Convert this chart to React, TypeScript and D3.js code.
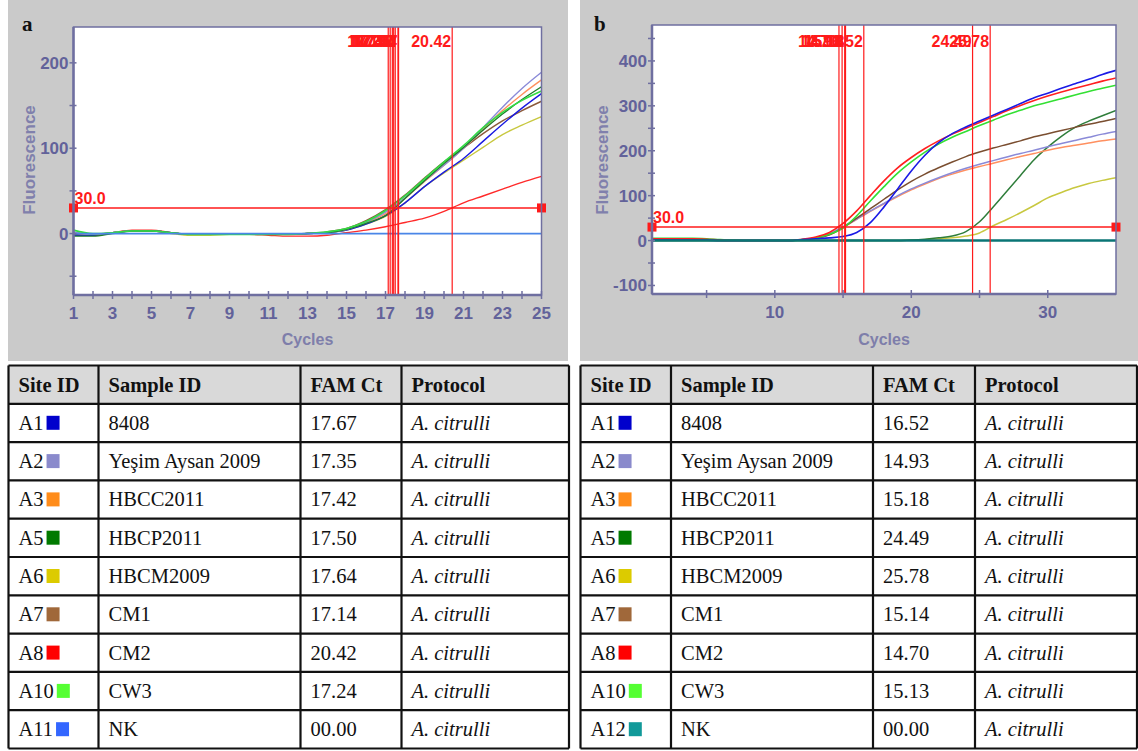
import React from 'react';
import * as d3 from 'd3';

// ---------- DATA ----------
const cyclesA = [1, 2, 3, 4, 5, 6, 7, 8, 9, 10, 11, 12, 13, 14, 15, 16, 17, 18, 19, 20, 21, 22, 23, 24, 25];
const cyclesB = [1, 2, 3, 4, 5, 6, 7, 8, 9, 10, 11, 12, 13, 14, 15, 16, 17, 18, 19, 20, 21, 22, 23, 24, 25, 26, 27, 28, 29, 30, 31, 32, 33, 34, 35];

// Panel a fluorescence per cycle
const blueA = [-2, -2, 1, 3, 3, 1, -1, -1, -1, -1, -1, -1, 0, 1, 4, 11, 21, 36, 55, 72, 88, 108, 128, 147, 164];
const lavenderA = [2, -1, 1, 3, 3, 1, -1, -1, -1, -1, -1, -1, 0, 1, 5, 13, 25, 42, 62, 80, 100, 124, 148, 170, 189];
const orangeA = [1, -1, 1, 3, 3, 1, -1, -1, -1, -1, -1, -1, 0, 1, 5, 13, 23, 41, 61, 80, 100, 122, 144, 163, 180];
const darkGreenA = [-3, -3, 0, 3, 3, 1, -1, -1, -1, -1, -1, -1, 0, 1, 5, 12, 21, 41, 62, 82, 101, 121, 140, 157, 172];
const yellowA = [0, -1, 1, 3, 3, 0, -2, -2, -1, -1, -1, -1, 0, 1, 4, 11, 20, 36, 55, 71, 86, 101, 116, 127, 137];
const brownA = [-2, -2, 1, 3, 3, 1, -1, -1, -1, -1, -1, -1, 0, 2, 6, 15, 28, 45, 65, 84, 100, 117, 132, 144, 155];
const redA = [-1, -2, 1, 4, 4, 1, -1, -1, -1, -1, -2, -3, -3, -2, 1, 4, 8, 13, 18, 26, 36, 44, 52, 60, 67];
const greenA = [4, 0, 1, 3, 3, 1, -1, -1, -1, -1, -1, -1, 0, 2, 6, 14, 27, 44, 64, 84, 103, 124, 142, 156, 167];
const nkA = [0, 0, 0, 0, 0, 0, 0, 0, 0, 0, 0, 0, 0, 0, 0, 0, 0, 0, 0, 0, 0, 0, 0, 0, 0];

// Panel b fluorescence per cycle
const blueB = [1, 1, 1, 1, 1, 0, 0, 0, 0, 0, 0, 2, 4, 6, 9, 18, 40, 75, 115, 155, 190, 218, 238, 253, 266, 279, 292, 305, 318, 328, 339, 349, 359, 370, 379];
const lavenderB = [1, 1, 1, 1, 1, 0, 0, 0, 0, 0, 0, 2, 6, 15, 31, 48, 66, 83, 100, 115, 128, 140, 151, 161, 170, 178, 186, 194, 201, 209, 216, 223, 230, 237, 243];
const orangeB = [1, 1, 1, 1, 1, 0, 0, 0, 0, 0, 0, 2, 5, 13, 29, 47, 65, 82, 98, 113, 126, 138, 148, 157, 165, 172, 180, 187, 194, 201, 207, 212, 217, 222, 226];
const darkGreenB = [0, 0, 0, 0, 0, 0, 0, 0, 0, 0, 0, 0, 0, 0, 0, 0, 0, 0, 0, 1, 3, 6, 10, 20, 42, 75, 110, 145, 180, 208, 232, 252, 266, 278, 290];
const yellowB = [0, 0, 0, 0, 0, 0, 0, 0, 0, 0, 0, 0, 0, 0, 0, 0, 0, 0, 0, 1, 2, 4, 6, 10, 17, 33, 47, 62, 78, 95, 107, 118, 127, 134, 140];
const brownB = [1, 1, 1, 1, 1, 0, 0, 0, 0, 0, 0, 2, 5, 13, 29, 50, 71, 92, 113, 132, 148, 162, 175, 187, 197, 206, 214, 222, 231, 238, 245, 252, 259, 265, 272];
const redB = [4, 4, 4, 4, 3, 1, 0, 0, 0, 0, 0, 3, 8, 18, 38, 66, 100, 133, 162, 185, 205, 222, 237, 250, 263, 276, 289, 301, 312, 322, 331, 339, 347, 355, 362];
const greenB = [5, 5, 5, 5, 4, 2, 1, 0, 0, 0, 0, 2, 6, 14, 28, 55, 88, 120, 150, 175, 197, 215, 230, 243, 256, 268, 280, 290, 300, 308, 316, 324, 332, 339, 346];
const nkB = [0, 0, 0, 0, 0, 0, 0, 0, 0, 0, 0, 0, 0, 0, 0, 0, 0, 0, 0, 0, 0, 0, 0, 0, 0, 0, 0, 0, 0, 0, 0, 0, 0, 0, 0];

// Ct values (vertical lines)
const ctA = [17.67, 17.35, 17.42, 17.5, 17.64, 17.14, 20.42, 17.24];
const ctB = [16.52, 14.93, 15.18, 24.49, 25.78, 15.14, 14.7, 15.13];
const threshold = 30;

// Axis ticks
const xLabelsA = [1, 3, 5, 7, 9, 11, 13, 15, 17, 19, 21, 23, 25];
const xMinorA = [1, 2, 3, 4, 5, 6, 7, 8, 9, 10, 11, 12, 13, 14, 15, 16, 17, 18, 19, 20, 21, 22, 23, 24, 25];
const yLabelsA = [0, 100, 200];
const yMinorA = [-50, 0, 50, 100, 150, 200];
const xLabelsB = [10, 20, 30];
const xMinorB = [5, 10, 15, 20, 25, 30];
const yLabelsB = [-100, 0, 100, 200, 300, 400];
const yMinorB = [-100, -50, 0, 50, 100, 150, 200, 250, 300, 350, 400, 450];

// Table
const siteIdsA = ['A1', 'A2', 'A3', 'A5', 'A6', 'A7', 'A8', 'A10', 'A11'];
const siteIdsB = ['A1', 'A2', 'A3', 'A5', 'A6', 'A7', 'A8', 'A10', 'A12'];
const sampleIds = ['8408', 'Yeşim Aysan 2009', 'HBCC2011', 'HBCP2011', 'HBCM2009', 'CM1', 'CM2', 'CW3', 'NK'];
const famCtA = ['17.67', '17.35', '17.42', '17.50', '17.64', '17.14', '20.42', '17.24', '00.00'];
const famCtB = ['16.52', '14.93', '15.18', '24.49', '25.78', '15.14', '14.70', '15.13', '00.00'];
const protocols = ['A. citrulli', 'A. citrulli', 'A. citrulli', 'A. citrulli', 'A. citrulli', 'A. citrulli', 'A. citrulli', 'A. citrulli', 'A. citrulli'];
const headers = ['Site ID', 'Sample ID', 'FAM Ct', 'Protocol'];
const swatchA = ['#0000cc', '#8a8acc', '#ff8c1a', '#007a00', '#dccb00', '#a0683a', '#ff0000', '#55ff33', '#3366ff'];
const swatchB = ['#0000cc', '#8a8acc', '#ff8c1a', '#007a00', '#dccb00', '#a0683a', '#ff0000', '#55ff33', '#119999'];

// ---------- STYLE ----------
const AXIS = '#6f6fa0';
const TICKTXT = '#62629a';
const RED = '#ff1a1a';
const GRAY = '#cacaca';
const SANS = "'Liberation Sans Narrow', 'Liberation Sans', Arial, sans-serif";
const SANS_W = "'Liberation Sans', Arial, sans-serif";
const SERIF = "'Liberation Serif', 'Times New Roman', serif";
const TFONT = 20.5;

type Series = { values: number[]; color: string; width: number };

const seriesA: Series[] = [
  { values: redA, color: '#ff2a2a', width: 1.4 },
  { values: yellowA, color: '#c8c840', width: 1.4 },
  { values: brownA, color: '#8b5a3a', width: 1.4 },
  { values: blueA, color: '#1a1ae0', width: 1.4 },
  { values: orangeA, color: '#ff9060', width: 1.4 },
  { values: lavenderA, color: '#8a8ad8', width: 1.4 },
  { values: darkGreenA, color: '#1f7f2a', width: 1.4 },
  { values: greenA, color: '#33dd44', width: 1.6 },
  { values: nkA, color: '#4a86e8', width: 1.8 },
];

const seriesB: Series[] = [
  { values: yellowB, color: '#c8c840', width: 1.5 },
  { values: darkGreenB, color: '#2e7d3a', width: 1.5 },
  { values: orangeB, color: '#ff9060', width: 1.5 },
  { values: lavenderB, color: '#8a8ad8', width: 1.5 },
  { values: brownB, color: '#7a4e30', width: 1.5 },
  { values: greenB, color: '#33e033', width: 1.6 },
  { values: redB, color: '#ff2020', width: 1.6 },
  { values: blueB, color: '#1a1ae6', width: 1.6 },
  { values: nkB, color: '#0a7575', width: 2.6 },
];

type PanelProps = {
  letter: string;
  bg: { x: number; w: number };
  plot: { l: number; r: number; t: number; b: number };
  labelX: number;
  xDomain: [number, number];
  yDomain: [number, number];
  cycles: number[];
  series: Series[];
  cts: number[];
  xLabels: number[];
  xMinor: number[];
  yLabels: number[];
  yMinor: number[];
};

function Panel(p: PanelProps) {
  const x = d3.scaleLinear().domain(p.xDomain).range([p.plot.l, p.plot.r]);
  const y = d3.scaleLinear().domain(p.yDomain).range([p.plot.b, p.plot.t]);
  const line = d3
    .line<number>()
    .x((_, i) => x(p.cycles[i]))
    .y((d) => y(d))
    .curve(d3.curveMonotoneX);
  const thrY = y(threshold);
  const cx = (p.plot.l + p.plot.r) / 2;
  return (
    <g>
      <rect x={p.bg.x} y={0} width={p.bg.w} height={361} fill={GRAY} />
      <text x={p.bg.x + 14} y={31} fontFamily={SERIF} fontWeight="bold" fontSize={21} fill="#111">
        {p.letter}
      </text>
      <rect x={p.plot.l} y={p.plot.t} width={p.plot.r - p.plot.l} height={p.plot.b - p.plot.t} fill="#fff" />
      <defs>
        <clipPath id={'clip' + p.letter}>
          <rect x={p.plot.l} y={p.plot.t} width={p.plot.r - p.plot.l} height={p.plot.b - p.plot.t} />
        </clipPath>
      </defs>
      <g clipPath={`url(#clip${p.letter})`}>
        {p.series.map((s, i) => (
          <path key={i} d={line(s.values) || ''} fill="none" stroke={s.color} strokeWidth={s.width} />
        ))}
      </g>
      {/* Ct vertical lines */}
      {p.cts.map((c, i) => (
        <line key={i} x1={x(c)} x2={x(c)} y1={p.plot.t} y2={p.plot.b} stroke={RED} strokeWidth={1.2} />
      ))}
      {p.cts.map((c, i) => (
        <text key={i} x={x(c) - 1} y={47} textAnchor="end" fontFamily={SANS} fontWeight="bold" fontSize={16} fill={RED}>
          {c.toFixed(2)}
        </text>
      ))}
      {/* threshold */}
      <line x1={p.plot.l} x2={p.plot.r} y1={thrY} y2={thrY} stroke={RED} strokeWidth={1.5} />
      <rect x={p.plot.l - 4.5} y={thrY - 4.5} width={9} height={9} fill={RED} />
      <rect x={p.plot.r - 4.5} y={thrY - 4.5} width={9} height={9} fill={RED} />
      <text x={p.plot.l + 1} y={thrY - 4} fontFamily={SANS} fontWeight="bold" fontSize={16} fill={RED}>
        {threshold.toFixed(1)}
      </text>
      {/* frame */}
      <rect
        x={p.plot.l}
        y={p.plot.t}
        width={p.plot.r - p.plot.l}
        height={p.plot.b - p.plot.t}
        fill="none"
        stroke={AXIS}
        strokeWidth={1.5}
      />
      <line x1={p.plot.l} x2={p.plot.r} y1={p.plot.b} y2={p.plot.b} stroke={AXIS} strokeWidth={2.5} />
      <line x1={p.plot.l} x2={p.plot.l} y1={p.plot.t} y2={p.plot.b} stroke={AXIS} strokeWidth={2.5} />
      {/* x ticks */}
      {p.xMinor.map((t) => (
        <line key={'xm' + t} x1={x(t)} x2={x(t)} y1={p.plot.b - 4} y2={p.plot.b + 4} stroke={AXIS} strokeWidth={1.5} />
      ))}
      {p.xLabels.map((t) => (
        <text key={'xl' + t} x={x(t)} y={p.plot.b + 24} textAnchor="middle" fontFamily={SANS} fontWeight="bold" fontSize={17} fill={TICKTXT}>
          {t}
        </text>
      ))}
      {/* y ticks */}
      {p.yMinor.map((t) => (
        <line key={'ym' + t} x1={p.plot.l - 4} x2={p.plot.l + 3} y1={y(t)} y2={y(t)} stroke={AXIS} strokeWidth={1.5} />
      ))}
      {p.yLabels.map((t) => (
        <text key={'yl' + t} x={p.plot.l - 5} y={y(t) + 6} textAnchor="end" fontFamily={SANS} fontWeight="bold" fontSize={17} fill={TICKTXT}>
          {t}
        </text>
      ))}
      <text
        transform={`translate(${p.labelX},${160}) rotate(-90)`}
        textAnchor="middle"
        fontFamily={SANS_W}
        fontWeight="bold"
        fontSize={17}
        fill="#8080ac"
      >
        Fluorescence
      </text>
      <text x={cx} y={345} textAnchor="middle" fontFamily={SANS_W} fontWeight="bold" fontSize={16} fill="#7e7eaa">
        Cycles
      </text>
    </g>
  );
}

type TableProps = {
  cols: number[];
  sites: string[];
  cts: string[];
  swatches: string[];
};

const TABLE_TOP = 365.5;
const ROW_H = 38.3;
const ROW_INDEX = [0, 1, 2, 3, 4, 5, 6, 7, 8, 9];

function Table(t: TableProps) {
  const rowsY = ROW_INDEX.map((i) => TABLE_TOP + i * ROW_H);
  const left = t.cols[0];
  const right = t.cols[t.cols.length - 1];
  const bottom = rowsY[9] + ROW_H;
  const body = sampleIds.map((s, i) => [t.sites[i], s, t.cts[i], protocols[i]]);
  const ctx = typeof document !== 'undefined' ? document.createElement('canvas').getContext('2d') : null;
  const measure = (s: string) => {
    if (!ctx) return s.length * 10;
    ctx.font = `${TFONT}px ${SERIF}`;
    return ctx.measureText(s).width;
  };
  return (
    <g>
      <rect x={left} y={rowsY[0]} width={right - left} height={ROW_H} fill="#d9d9d9" />
      {headers.map((h, j) => (
        <text key={h} x={t.cols[j] + 10} y={rowsY[0] + 26} fontFamily={SERIF} fontWeight="bold" fontSize={TFONT} fill="#111">
          {h}
        </text>
      ))}
      {body.map((row, i) =>
        row.map((cell, j) => (
          <text
            key={i + '-' + j}
            x={t.cols[j] + 10}
            y={rowsY[i + 1] + 26}
            fontFamily={SERIF}
            fontStyle={j === 3 ? 'italic' : 'normal'}
            fontSize={TFONT}
            fill="#111"
          >
            {cell}
          </text>
        ))
      )}
      {body.map((row, i) => (
        <rect
          key={'sw' + i}
          x={t.cols[0] + 10 + measure(row[0]) + 3}
          y={rowsY[i + 1] + 12}
          width={13}
          height={14}
          fill={t.swatches[i]}
        />
      ))}
      {rowsY.map((yy, i) => (
        <line key={'h' + i} x1={left} x2={right} y1={yy} y2={yy} stroke="#111" strokeWidth={2.2} />
      ))}
      <line x1={left} x2={right} y1={bottom} y2={bottom} stroke="#111" strokeWidth={2.2} />
      {t.cols.map((cxx, j) => (
        <line key={'v' + j} x1={cxx} x2={cxx} y1={rowsY[0]} y2={bottom} stroke="#111" strokeWidth={2.2} />
      ))}
    </g>
  );
}

export default function App() {
  return (
    <div style={{ position: 'absolute', left: 0, top: 0 }}>
      <svg width={1138} height={751} style={{ display: 'block', background: '#fff' }}>
        <Panel
          letter="a"
          bg={{ x: 8, w: 560 }}
          plot={{ l: 73.5, r: 541.5, t: 27, b: 295 }}
          labelX={35}
          xDomain={[1, 25]}
          yDomain={[-72, 242]}
          cycles={cyclesA}
          series={seriesA}
          cts={ctA}
          xLabels={xLabelsA}
          xMinor={xMinorA}
          yLabels={yLabelsA}
          yMinor={yMinorA}
        />
        <Panel
          letter="b"
          bg={{ x: 580, w: 558 }}
          plot={{ l: 652, r: 1116, t: 25, b: 294 }}
          labelX={608}
          xDomain={[1, 35]}
          yDomain={[-119, 480]}
          cycles={cyclesB}
          series={seriesB}
          cts={ctB}
          xLabels={xLabelsB}
          xMinor={xMinorB}
          yLabels={yLabelsB}
          yMinor={yMinorB}
        />
        <Table cols={[8.5, 98.5, 300.5, 401.5, 569]} sites={siteIdsA} cts={famCtA} swatches={swatchA} />
        <Table cols={[580.5, 671, 873, 975, 1137]} sites={siteIdsB} cts={famCtB} swatches={swatchB} />
      </svg>
    </div>
  );
}
